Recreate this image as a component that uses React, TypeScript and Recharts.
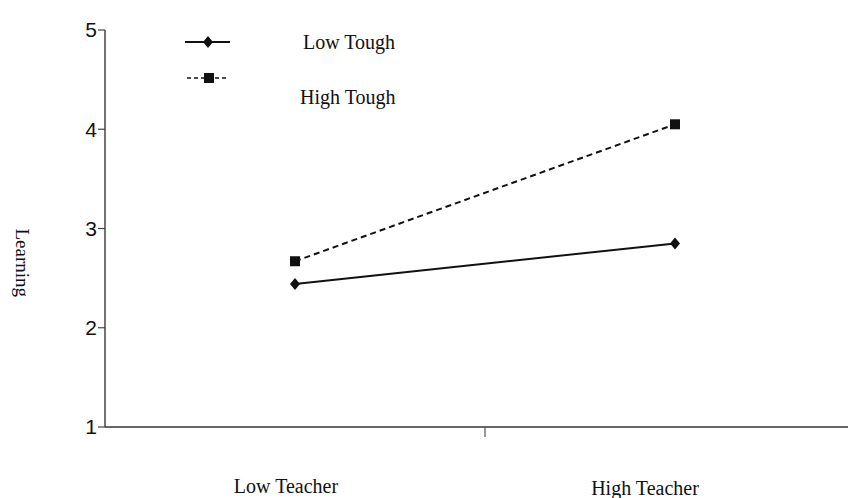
import React from 'react'
import { LineChart, Line, XAxis, YAxis } from 'recharts'

// x positions on a 0..2 scale: each condition sits in the middle of its half
const conditions = ['Low Teacher', 'High Teacher']
const conditionX = [0.5, 1.5]
const lowTough = [2.44, 2.85]
const highTough = [2.67, 4.05]
const yTicks = [1, 2, 3, 4, 5]

const data = conditions.map((name, i) => ({
  name,
  x: conditionX[i],
  lowTough: lowTough[i],
  highTough: highTough[i],
}))

const serif = '"Liberation Serif", "Times New Roman", serif'
const sans = '"Liberation Sans", Arial, sans-serif'

const Diamond = (props: any) => {
  const { cx, cy } = props
  if (cx == null || cy == null) return null
  return <path d={`M${cx},${cy - 6}L${cx + 5},${cy}L${cx},${cy + 6}L${cx - 5},${cy}Z`} fill="#111" />
}

const Square = (props: any) => {
  const { cx, cy } = props
  if (cx == null || cy == null) return null
  return <rect x={cx - 5} y={cy - 5} width={10} height={10} fill="#111" />
}

const labelShift: Record<string, number> = { 'Low Teacher': -9, 'High Teacher': -30 }

const XTick = (props: any) => {
  const { x, y, payload } = props
  if (payload.value === 1) {
    return <line x1={x} x2={x} y1={y - 8} y2={y + 2} stroke="#555" strokeWidth={1.2} />
  }
  const idx = conditionX.indexOf(payload.value)
  const label = conditions[idx]
  return (
    <text
      x={x + (labelShift[label] || 0)}
      y={y + 58 + idx * 2}
      textAnchor="middle"
      fontFamily={serif}
      fontSize={20}
      fill="#111"
    >
      {label}
    </text>
  )
}

const LegendBox = () => (
  <svg width={300} height={80} style={{ position: 'absolute', left: 185, top: 30, overflow: 'visible' }}>
    <line x1={0} x2={45} y1={12} y2={12} stroke="#111" strokeWidth={2} />
    <Diamond cx={23} cy={12} />
    <text x={118} y={19} fontFamily={serif} fontSize={20} fill="#111">Low Tough</text>
    <line x1={2} x2={43} y1={48} y2={48} stroke="#111" strokeWidth={1.6} strokeDasharray="4 3" />
    <Square cx={24} cy={48} />
    <text x={115} y={74} fontFamily={serif} fontSize={20} fill="#111">High Tough</text>
  </svg>
)

export default function App() {
  return (
    <div style={{ position: 'relative', margin: '-8px 0 0 -8px', width: 870, height: 498, background: '#fff' }}>
      <LineChart width={870} height={498} data={data} margin={{ top: 30, right: 5, bottom: 0, left: 45 }}>
        <XAxis
          dataKey="x"
          type="number"
          domain={[0, 2]}
          ticks={[0.5, 1, 1.5]}
          tick={<XTick />}
          tickLine={false}
          axisLine={{ stroke: '#666', strokeWidth: 2 }}
          height={71}
          interval={0}
        />
        <YAxis
          domain={[1, 5]}
          ticks={yTicks}
          width={60}
          tickSize={7}
          tickMargin={1}
          axisLine={{ stroke: '#444', strokeWidth: 1.5 }}
          tickLine={{ stroke: '#444', strokeWidth: 1.2 }}
          tick={{ fontFamily: sans, fontSize: 21, fill: '#111' }}
          label={{
            value: 'Learning',
            angle: 90,
            position: 'insideLeft',
            offset: -22,
            fontFamily: serif,
            fontSize: 19,
            fill: '#111',
          }}
        />
        <Line
          dataKey="lowTough"
          stroke="#111"
          strokeWidth={2}
          dot={<Diamond />}
          isAnimationActive={false}
        />
        <Line
          dataKey="highTough"
          stroke="#111"
          strokeWidth={2}
          strokeDasharray="6 4"
          dot={<Square />}
          isAnimationActive={false}
        />
      </LineChart>
      <LegendBox />
    </div>
  )
}
